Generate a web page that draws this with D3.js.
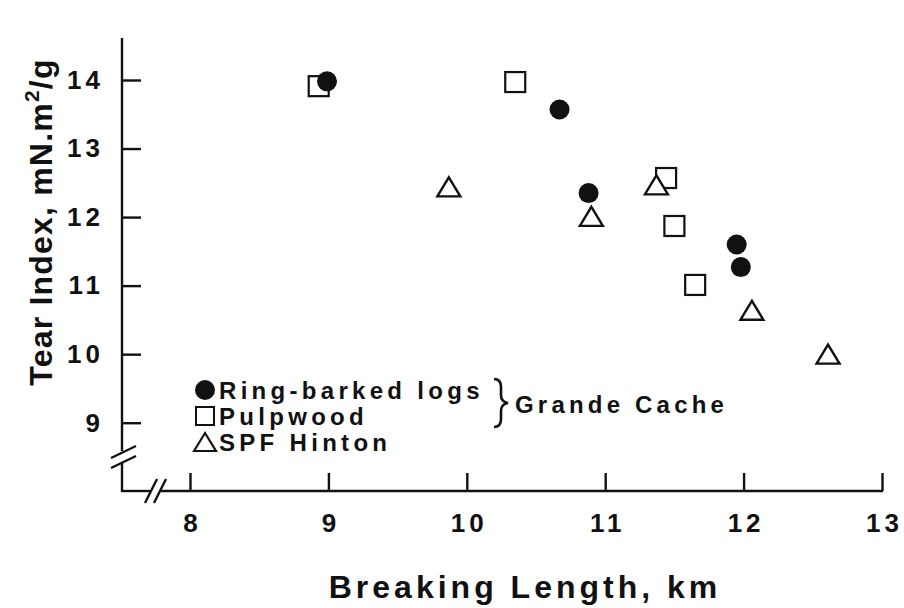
<!DOCTYPE html>
<html>
<head>
<meta charset="utf-8">
<script src="https://cdn.jsdelivr.net/npm/d3@7"></script>
<style>
  body { margin: 0; background: #fff; }
  svg text { font-family: "Liberation Sans", Arial, Helvetica, sans-serif; font-weight: bold; fill: #111; }
</style>
</head>
<body>
<svg id="chart" width="904" height="608"></svg>
<script>
// breaking length (km) vs tear index (mN.m2/g)
var ringBarkedX = [8.99, 10.67, 10.88, 11.95, 11.98];
var ringBarkedY = [13.98, 13.57, 12.35, 11.60, 11.27];

var pulpwoodX = [8.93, 10.35, 11.44, 11.50, 11.65];
var pulpwoodY = [13.91, 13.97, 12.57, 11.87, 11.01];

var hintonX = [9.87, 10.90, 11.37, 12.06, 12.61];
var hintonY = [12.44, 12.01, 12.47, 10.64, 10.00];

var xTicks = [8, 9, 10, 11, 12, 13];
var yTicks = [9, 10, 11, 12, 13, 14];

var legendLabels = ["Ring-barked logs", "Pulpwood", "SPF Hinton"];

var svg = d3.select("#chart");
var x = d3.scaleLinear().domain([8, 13]).range([190, 882]);
var y = d3.scaleLinear().domain([9, 14]).range([422.7, 80]);

var axisX = 122, axisY = 491;

/* axis lines, with the breaks near the origin */
var g = svg.append("g").attr("stroke", "#111").attr("stroke-width", 2.4).attr("fill", "none");
g.append("line").attr("x1", axisX).attr("x2", axisX).attr("y1", 38).attr("y2", 451);
g.append("line").attr("x1", axisX).attr("x2", axisX).attr("y1", 462).attr("y2", axisY + 1);
g.append("line").attr("x1", axisX - 1).attr("x2", 150).attr("y1", axisY).attr("y2", axisY);
g.append("line").attr("x1", 161).attr("x2", x(13) + 1).attr("y1", axisY).attr("y2", axisY);
// slanted break marks
[[111, 458, 136, 446], [111, 468, 136, 456], [145, 503, 157, 479], [154, 503, 166, 479]].forEach(function (l) {
  g.append("line").attr("x1", l[0]).attr("y1", l[1]).attr("x2", l[2]).attr("y2", l[3]);
});

var xAxis = d3.axisBottom(x).tickValues(xTicks).tickFormat(d3.format("d"))
  .tickSizeInner(-18).tickSizeOuter(0).tickPadding(23);
var gx = svg.append("g").attr("transform", "translate(0," + axisY + ")").call(xAxis);
gx.select(".domain").remove();
gx.selectAll(".tick line").attr("stroke", "#111").attr("stroke-width", 2.4);
gx.selectAll(".tick text").attr("font-size", 26).style("letter-spacing", "4px").attr("fill", "#111")
  .attr("font-family", null).attr("dx", 2);

var yAxis = d3.axisLeft(y).tickValues(yTicks).tickFormat(d3.format("d"))
  .tickSizeInner(-19).tickSizeOuter(0).tickPadding(18);
var gy = svg.append("g").attr("transform", "translate(" + axisX + ",0)").call(yAxis);
gy.select(".domain").remove();
gy.selectAll(".tick line").attr("stroke", "#111").attr("stroke-width", 2.4);
gy.selectAll(".tick text").attr("font-size", 26).style("letter-spacing", "4px").attr("fill", "#111")
  .attr("font-family", null);

/* axis titles */
svg.append("text").attr("x", 525).attr("y", 598).attr("text-anchor", "middle")
  .attr("font-size", 32).style("letter-spacing", "4px").text("Breaking Length, km");

var yt = svg.append("text").attr("transform", "translate(52,222) rotate(-90)")
  .attr("text-anchor", "middle").attr("font-size", 32).style("letter-spacing", "1.2px");
yt.append("tspan").text("Tear Index, mN.m");
yt.append("tspan").attr("font-size", 21).attr("dy", -13).text("2");
yt.append("tspan").attr("dy", 13).text("/g");

/* markers */
function tri(cx, cy, w, h) {
  return "M" + (cx - w / 2) + "," + (cy + h / 2) + "L" + cx + "," + (cy - h / 2) + "L" + (cx + w / 2) + "," + (cy + h / 2) + "Z";
}

var pulp = d3.zip(pulpwoodX, pulpwoodY);
var hint = d3.zip(hintonX, hintonY);
var ring = d3.zip(ringBarkedX, ringBarkedY);

svg.append("g").selectAll("rect").data(pulp).enter().append("rect")
  .attr("x", function (d) { return x(d[0]) - 10; })
  .attr("y", function (d) { return y(d[1]) - 10; })
  .attr("width", 20).attr("height", 20)
  .attr("fill", "#fff").attr("stroke", "#111").attr("stroke-width", 2.2);

svg.append("g").selectAll("path").data(hint).enter().append("path")
  .attr("d", function (d) { return tri(x(d[0]), y(d[1]), 23, 19); })
  .attr("fill", "#fff").attr("stroke", "#111").attr("stroke-width", 2.4).attr("stroke-linejoin", "miter");

svg.append("g").selectAll("circle").data(ring).enter().append("circle")
  .attr("cx", function (d) { return x(d[0]); })
  .attr("cy", function (d) { return y(d[1]); })
  .attr("r", 10).attr("fill", "#111");

/* legend */
var lx = 205, ly = [390, 416, 442];
var leg = svg.append("g");
leg.append("circle").attr("cx", lx).attr("cy", ly[0]).attr("r", 10).attr("fill", "#111");
leg.append("rect").attr("x", lx - 9).attr("y", ly[1] - 9).attr("width", 18).attr("height", 18)
  .attr("fill", "none").attr("stroke", "#111").attr("stroke-width", 2);
leg.append("path").attr("d", tri(lx, ly[2], 22, 18)).attr("fill", "none").attr("stroke", "#111").attr("stroke-width", 2.2);
legendLabels.forEach(function (t, i) {
  leg.append("text").attr("x", 219).attr("y", ly[i] + 9).attr("font-size", 24)
    .style("letter-spacing", "4.3px").text(t);
});

// brace grouping the Grande Cache series
leg.append("path")
  .attr("d", "M494,379 Q501,379 501,387 L501,395 Q501,402 508,403 Q501,404 501,411 L501,419 Q501,427 494,427")
  .attr("fill", "none").attr("stroke", "#111").attr("stroke-width", 2.6);
leg.append("text").attr("x", 515).attr("y", 413).attr("font-size", 24)
  .style("letter-spacing", "4.2px").text("Grande Cache");
</script>
</body>
</html>
